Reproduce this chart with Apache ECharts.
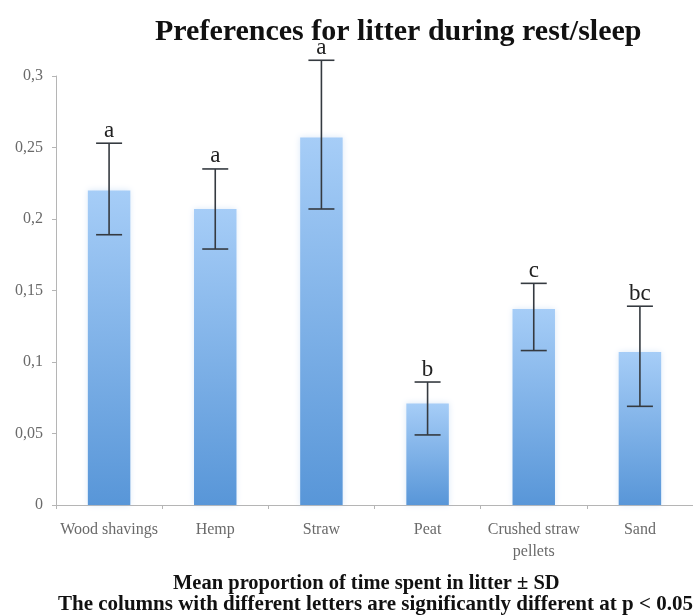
<!DOCTYPE html>
<html>
<head>
<meta charset="utf-8">
<script src="https://cdn.jsdelivr.net/npm/echarts@6/dist/echarts.min.js"></script>
<style>
  html, body { margin: 0; padding: 0; background: #fff; }
  #chart { width: 693px; height: 616px; }
</style>
</head>
<body>
<div id="chart"></div>
<script>
const categories = ['Wood shavings', 'Hemp', 'Straw', 'Peat', 'Crushed straw\npellets', 'Sand'];
const means = [0.220, 0.207, 0.257, 0.071, 0.137, 0.107];
const upperSD = [0.253, 0.235, 0.311, 0.086, 0.155, 0.139];
const lowerSD = [0.189, 0.179, 0.207, 0.049, 0.108, 0.069];
const letters = ['a', 'a', 'a', 'b', 'c', 'bc'];
const yTicks = [0, 0.05, 0.1, 0.15, 0.2, 0.25, 0.3];

const FONT = "'Liberation Serif', 'Times New Roman', serif";

const errData = categories.map((c, i) => [i, lowerSD[i], upperSD[i]]);

const chart = echarts.init(document.getElementById('chart'), null, { renderer: 'canvas' });
chart.setOption({
  animation: false,
  backgroundColor: '#ffffff',
  title: {
    text: 'Preferences for litter during rest/sleep',
    left: 150,
    top: 12,
    textStyle: { fontFamily: FONT, fontSize: 30, fontWeight: 'bold', color: '#111' }
  },
  grid: { left: 56, right: -5, top: 76, bottom: 111, containLabel: false },
  xAxis: {
    type: 'category',
    data: categories,
    axisLine: { lineStyle: { color: '#b5b5b5', width: 1 } },
    axisTick: { show: true, length: 4, alignWithLabel: false, lineStyle: { color: '#b5b5b5' } },
    axisLabel: { fontFamily: FONT, fontSize: 16, color: '#6a6a6a', margin: 14, lineHeight: 22, interval: 0 }
  },
  yAxis: {
    type: 'value',
    min: 0,
    max: 0.3,
    interval: 0.05,
    splitLine: { show: false },
    axisLine: { show: true, lineStyle: { color: '#b5b5b5', width: 1 } },
    axisTick: { show: true, length: 4, lineStyle: { color: '#b5b5b5' } },
    axisLabel: {
      fontFamily: FONT, fontSize: 16, color: '#6a6a6a', margin: 13,
      formatter: v => {
        const t = yTicks.find(x => Math.abs(x - v) < 1e-9);
        return t === undefined ? '' : String(+t.toFixed(2)).replace('.', ',');
      }
    }
  },
  series: [
    {
      type: 'bar',
      data: means,
      barWidth: '40%',
      itemStyle: {
        color: new echarts.graphic.LinearGradient(0, 0, 0, 1, [
          { offset: 0, color: '#a6cdf7' },
          { offset: 1, color: '#5896d8' }
        ]),
        shadowBlur: 6,
        shadowColor: 'rgba(150,190,235,0.35)'
      }
    },
    {
      type: 'custom',
      data: errData,
      z: 10,
      renderItem: function (params, api) {
        const i = api.value(0);
        const lo = api.coord([i, api.value(1)]);
        const hi = api.coord([i, api.value(2)]);
        const half = 13;
        const style = { stroke: '#353a40', lineWidth: 1.6 };
        return {
          type: 'group',
          children: [
            { type: 'line', shape: { x1: hi[0], y1: hi[1], x2: lo[0], y2: lo[1] }, style: style },
            { type: 'line', shape: { x1: hi[0] - half, y1: hi[1], x2: hi[0] + half, y2: hi[1] }, style: style },
            { type: 'line', shape: { x1: lo[0] - half, y1: lo[1], x2: lo[0] + half, y2: lo[1] }, style: style },
            {
              type: 'text',
              style: {
                text: letters[params.dataIndex],
                x: hi[0], y: hi[1] - 1,
                textAlign: 'center', textVerticalAlign: 'bottom',
                fontFamily: FONT, fontSize: 23, fill: '#222'
              }
            }
          ]
        };
      }
    }
  ],
  graphic: [
    {
      type: 'text', left: 173, top: 573,
      style: { text: 'Mean proportion of time spent in litter \u00b1 SD', fontFamily: FONT, fontSize: 20.5, fontWeight: 'bold', fill: '#111' }
    },
    {
      type: 'text', left: 58, top: 594,
      style: { text: 'The columns with different letters are significantly different at p < 0.05', fontFamily: FONT, fontSize: 21, fontWeight: 'bold', fill: '#111' }
    }
  ]
});
</script>
</body>
</html>
